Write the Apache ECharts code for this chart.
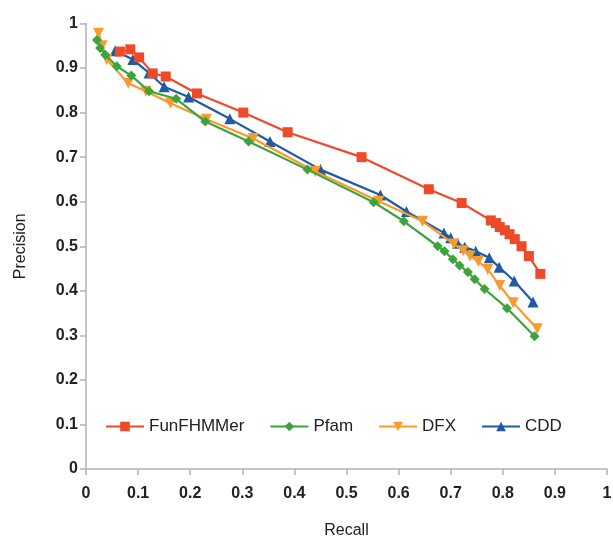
<!DOCTYPE html>
<html>
<head>
<meta charset="utf-8">
<script src="https://cdn.jsdelivr.net/npm/echarts@6/dist/echarts.min.js"></script>
<style>
html,body{margin:0;padding:0;background:#fff;}
#c{width:613px;height:540px;}
</style>
</head>
<body>
<div id="c"></div>
<script>
const seriesNames = ['FunFHMMer', 'Pfam', 'DFX', 'CDD'];
const xTicks = [0, 0.1, 0.2, 0.3, 0.4, 0.5, 0.6, 0.7, 0.8, 0.9, 1];
const yTicks = [0, 0.1, 0.2, 0.3, 0.4, 0.5, 0.6, 0.7, 0.8, 0.9, 1];

const funfhmmer = [
  [0.065, 0.937], [0.085, 0.942], [0.102, 0.924], [0.128, 0.888], [0.153, 0.881],
  [0.213, 0.843], [0.302, 0.800], [0.387, 0.756], [0.529, 0.700], [0.658, 0.628],
  [0.721, 0.597], [0.777, 0.558], [0.787, 0.552], [0.794, 0.543], [0.804, 0.536],
  [0.813, 0.527], [0.823, 0.516], [0.836, 0.500], [0.850, 0.478], [0.872, 0.438]
];
const pfam = [
  [0.021, 0.963], [0.027, 0.945], [0.037, 0.930], [0.059, 0.904], [0.087, 0.883],
  [0.121, 0.848], [0.173, 0.831], [0.229, 0.780], [0.312, 0.735], [0.425, 0.672],
  [0.552, 0.599], [0.610, 0.556], [0.675, 0.500], [0.688, 0.489], [0.704, 0.471],
  [0.717, 0.457], [0.733, 0.442], [0.746, 0.426], [0.765, 0.404], [0.808, 0.361],
  [0.861, 0.298]
];
const dfx = [
  [0.024, 0.978], [0.031, 0.950], [0.040, 0.919], [0.081, 0.866], [0.115, 0.848],
  [0.162, 0.821], [0.231, 0.785], [0.321, 0.742], [0.440, 0.668], [0.562, 0.601],
  [0.646, 0.556], [0.706, 0.505], [0.724, 0.490], [0.737, 0.478], [0.753, 0.466],
  [0.771, 0.448], [0.794, 0.412], [0.820, 0.373], [0.866, 0.315]
];
const cdd = [
  [0.056, 0.939], [0.090, 0.919], [0.121, 0.889], [0.150, 0.858], [0.197, 0.835],
  [0.276, 0.786], [0.353, 0.735], [0.450, 0.672], [0.565, 0.615], [0.615, 0.578],
  [0.687, 0.530], [0.700, 0.519], [0.713, 0.507], [0.727, 0.498], [0.748, 0.489],
  [0.774, 0.474], [0.793, 0.453], [0.822, 0.422], [0.858, 0.375]
];

const colors = ['#EE4A2A', '#3BA43B', '#F99B2C', '#1F5BA3'];
const symbols = ['rect', 'diamond', 'triangle', 'triangle'];
const symbolSizes = [10, 10, 11, 11];
const rotates = [0, 0, 180, 0];
const dataSets = [funfhmmer, pfam, dfx, cdd];

const chart = echarts.init(document.getElementById('c'));
const font = 'Liberation Sans, Arial, sans-serif';
chart.setOption({
  animation: false,
  color: colors,
  grid: { left: 86, right: 6, top: 23.5, bottom: 71, containLabel: false, outerBoundsMode: 'none' },
  legend: {
    data: seriesNames,
    left: 100,
    top: 413,
    itemWidth: 38,
    itemHeight: 12,
    itemGap: 25,
    textStyle: { fontFamily: font, fontSize: 17, color: '#222' }
  },
  xAxis: {
    type: 'value', min: 0, max: 1, interval: 0.1,
    name: 'Recall', nameLocation: 'middle', nameGap: 54,
    nameTextStyle: { fontFamily: font, fontSize: 16, color: '#222' },
    axisLine: { show: true, lineStyle: { color: '#b3b3b3', width: 1.5 } },
    axisTick: { show: true, length: 6, lineStyle: { color: '#b3b3b3', width: 1.5 } },
    splitLine: { show: false },
    axisLabel: { fontFamily: font, fontSize: 16, fontWeight: 'bold', color: '#222', margin: 17,
      formatter: v => String(+v.toFixed(1)) }
  },
  yAxis: {
    type: 'value', min: 0, max: 1, interval: 0.1,
    name: 'Precision', nameLocation: 'middle', nameGap: 57, nameRotate: 90,
    nameTextStyle: { fontFamily: font, fontSize: 16, color: '#222' },
    axisLine: { show: true, lineStyle: { color: '#b3b3b3', width: 1.5 } },
    axisTick: { show: true, length: 6, lineStyle: { color: '#b3b3b3', width: 1.5 } },
    splitLine: { show: false },
    axisLabel: { fontFamily: font, fontSize: 16, fontWeight: 'bold', color: '#222', margin: 8,
      formatter: v => String(+v.toFixed(1)) }
  },
  series: seriesNames.map((n, i) => ({
    name: n,
    type: 'line',
    data: dataSets[i],
    symbol: symbols[i],
    symbolSize: symbolSizes[i],
    symbolRotate: rotates[i],
    showAllSymbol: true,
    lineStyle: { width: 2.2, color: colors[i] },
    itemStyle: { color: colors[i] },
    z: 10 - i
  }))
});
</script>
</body>
</html>
